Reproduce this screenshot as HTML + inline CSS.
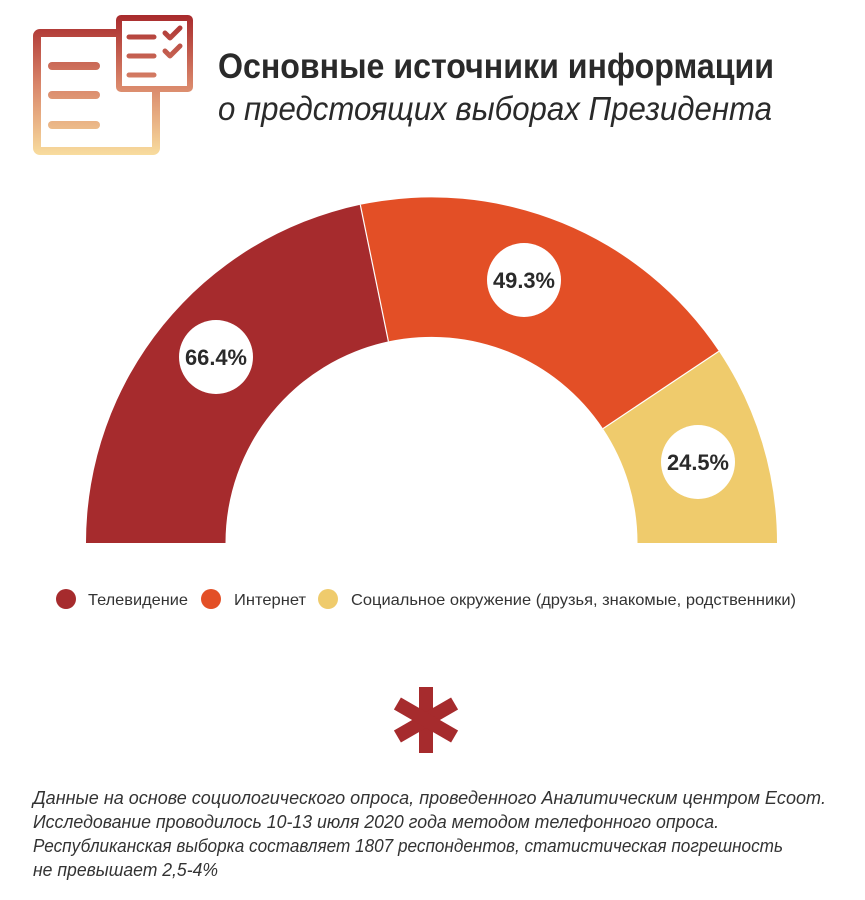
<!DOCTYPE html>
<html><head><meta charset="utf-8"><style>
body{margin:0;width:865px;height:900px;background:#fff;overflow:hidden;font-family:"Liberation Sans","DejaVu Sans",sans-serif}
svg{position:absolute;left:0;top:0}
</style></head><body>
<svg width="865" height="900" viewBox="0 0 865 900">
<defs>
<linearGradient id="g2" gradientUnits="userSpaceOnUse" x1="0" y1="15" x2="0" y2="155">
<stop offset="0" stop-color="#a82a2c"/><stop offset="0.5" stop-color="#d9866a"/><stop offset="1" stop-color="#f8dc9e"/></linearGradient>
</defs>
<g stroke="url(#g2)" fill="none" stroke-linecap="round" stroke-linejoin="round">
<rect x="37" y="33" width="119" height="118" rx="3" stroke-width="8"/>
<line x1="52" y1="66" x2="96" y2="66" stroke-width="8"/>
<line x1="52" y1="95" x2="96" y2="95" stroke-width="8"/>
<line x1="52" y1="125" x2="96" y2="125" stroke-width="8"/>
<rect x="116" y="15" width="77" height="77" rx="3" fill="#fff" stroke="none"/>
<rect x="119" y="18" width="71" height="71" rx="2" stroke-width="6"/>
<line x1="129" y1="37" x2="154" y2="37" stroke-width="5"/>
<line x1="129" y1="56" x2="154" y2="56" stroke-width="5"/>
<line x1="129" y1="75" x2="154" y2="75" stroke-width="5"/>
<polyline points="165,33 170,38 180,28" stroke-width="5"/>
<polyline points="165,51 170,56 180,46" stroke-width="5"/>
</g>
<text x="218" y="78" font-size="35" font-weight="bold" fill="#2a2a2a" textLength="556" lengthAdjust="spacingAndGlyphs">Основные источники информации</text>
<text x="218" y="120" font-size="33" font-style="italic" fill="#2a2a2a" textLength="554" lengthAdjust="spacingAndGlyphs">о предстоящих выборах Президента</text>

<path d="M86,543 A345.5,345.5 0 0 1 360.3,204.8 L388.4,341.4 A206,206 0 0 0 225.5,543 Z" fill="#a62b2d"/>
<path d="M360.3,204.8 A345.5,345.5 0 0 1 718.9,351.2 L603.0,428.6 A206,206 0 0 0 388.4,341.4 Z" fill="#e34f26"/>
<path d="M718.9,351.2 A345.5,345.5 0 0 1 777,543 L637.5,543 A206,206 0 0 0 603.0,428.6 Z" fill="#efcb6c"/>
<line x1="360.3" y1="204.8" x2="388.4" y2="341.4" stroke="#fff" stroke-width="1.2"/>
<line x1="718.9" y1="351.2" x2="603" y2="428.6" stroke="#fff" stroke-width="1.2"/>
<g fill="#fff"><circle cx="216" cy="357" r="37"/><circle cx="524" cy="280" r="37"/><circle cx="698" cy="462" r="37"/></g>
<g font-size="22" font-weight="bold" fill="#2a2a2a" text-anchor="middle">
<text x="216" y="365" textLength="62" lengthAdjust="spacingAndGlyphs">66.4%</text><text x="524" y="288" textLength="62" lengthAdjust="spacingAndGlyphs">49.3%</text><text x="698" y="470" textLength="62" lengthAdjust="spacingAndGlyphs">24.5%</text></g>

<g font-size="16" fill="#333">
<circle cx="66" cy="599" r="10" fill="#a62b2d"/><text x="88" y="605" textLength="100" lengthAdjust="spacingAndGlyphs">Телевидение</text>
<circle cx="211" cy="599" r="10" fill="#e34f26"/><text x="234" y="605" textLength="72" lengthAdjust="spacingAndGlyphs">Интернет</text>
<circle cx="328" cy="599" r="10" fill="#efcb6c"/><text x="351" y="605" textLength="445" lengthAdjust="spacingAndGlyphs">Социальное окружение (друзья, знакомые, родственники)</text>
</g>

<g fill="#a62b2d" transform="translate(426,720)">
<rect x="-7" y="-33" width="14" height="66"/>
<rect x="-7" y="-33" width="14" height="66" transform="rotate(60)"/>
<rect x="-7" y="-33" width="14" height="66" transform="rotate(-60)"/>
</g>

<g font-size="18" font-style="italic" fill="#333" lengthAdjust="spacingAndGlyphs">
<text x="33" y="804" textLength="793" lengthAdjust="spacingAndGlyphs">Данные на основе социологического опроса, проведенного Аналитическим центром Ecoom.</text>
<text x="33" y="828" textLength="686" lengthAdjust="spacingAndGlyphs">Исследование проводилось 10-13 июля 2020 года методом телефонного опроса.</text>
<text x="33" y="852" textLength="750" lengthAdjust="spacingAndGlyphs">Республиканская выборка составляет 1807 респондентов, статистическая погрешность</text>
<text x="33" y="876" textLength="185" lengthAdjust="spacingAndGlyphs">не превышает 2,5-4%</text>
</g>
</svg>
</body></html>
